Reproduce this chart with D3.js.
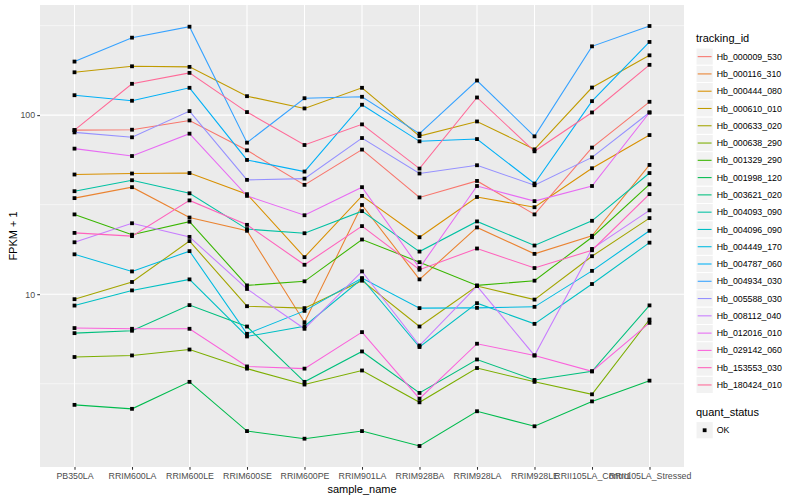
<!DOCTYPE html>
<html>
<head>
<meta charset="utf-8">
<script src="https://cdn.jsdelivr.net/npm/d3@7"></script>
<style>
  body { margin: 0; background: #fff; }
  text { font-family: "Liberation Sans", Arial, Helvetica, sans-serif; }
</style>
</head>
<body>
<div id="chart"></div>
<script>
// samples along the x axis
var samples = ["PB350LA", "RRIM600LA", "RRIM600LE", "RRIM600SE", "RRIM600PE", "RRIM901LA",
  "RRIM928BA", "RRIM928LA", "RRIM928LE", "RRII105LA_Control", "RRII105LA_Stressed"];

var trackingIds = ["Hb_000009_530", "Hb_000116_310", "Hb_000444_080", "Hb_000610_010", "Hb_000633_020",
  "Hb_000638_290", "Hb_001329_290", "Hb_001998_120", "Hb_003621_020", "Hb_004093_090",
  "Hb_004096_090", "Hb_004449_170", "Hb_004787_060", "Hb_004934_030", "Hb_005588_030",
  "Hb_008112_040", "Hb_012016_010", "Hb_029142_060", "Hb_153553_030", "Hb_180424_010"];

// FPKM + 1, one array per gene, same order as samples
var hb_000009_530 = [82.5, 82.9, 93.4, 63.6, 40.8, 64.2, 34.7, 42.9, 27.9, 65.9, 118.7];
var hb_000116_310 = [34.4, 39.6, 26.8, 22.6, 6.97, 31.5, 12.1, 23.6, 16.8, 21.2, 52.7];
var hb_000444_080 = [46.6, 47.2, 47.5, 36.2, 16.1, 35.4, 20.8, 34.9, 30.6, 50.5, 77.4];
var hb_000610_010 = [173.5, 187.4, 186, 127.6, 109, 142.1, 76.4, 92.2, 64.4, 142.6, 215.8];
var hb_000633_020 = [9.38, 11.7, 19.8, 8.57, 8.36, 11.9, 6.6, 11.1, 9.33, 16.3, 26.6];
var hb_000638_290 = [4.46, 4.55, 4.91, 3.84, 3.13, 3.75, 2.49, 3.87, 3.24, 2.76, 7.22];
var hb_001329_290 = [27.9, 21.5, 25.4, 11.2, 11.8, 20.2, 15.1, 11.2, 11.9, 20.8, 41.1];
var hb_001998_120 = [2.41, 2.29, 3.24, 1.72, 1.56, 1.72, 1.42, 2.22, 1.83, 2.52, 3.29];
var hb_003621_020 = [6.06, 6.25, 8.69, 6.6, 3.24, 4.79, 2.81, 4.32, 3.32, 3.71, 8.66];
var hb_004093_090 = [37.6, 43.3, 36.6, 23.1, 21.9, 29.1, 17.3, 25.5, 18.7, 25.7, 47.5];
var hb_004096_090 = [8.64, 10.5, 12.1, 5.81, 6.63, 12.2, 5.07, 8.91, 6.83, 11.4, 19.4];
var hb_004449_170 = [16.7, 13.4, 17.4, 6.01, 8.07, 12.3, 8.36, 8.39, 8.5, 13.5, 22.6];
var hb_004787_060 = [129.2, 120.3, 142.1, 56.2, 48.4, 114.3, 71.4, 73.5, 41.5, 119.7, 256.3];
var hb_004934_030 = [199.1, 270.8, 311.8, 70.2, 124.3, 126.6, 78.8, 156.1, 76.1, 242.2, 314.6];
var hb_005588_030 = [80.1, 75.2, 105.3, 43.5, 44.2, 74.5, 47.2, 52.5, 40.6, 58.1, 103.5];
var hb_008112_040 = [19.5, 24.9, 20.9, 10.7, 6.41, 13.4, 5.17, 11.1, 4.55, 17.9, 29.4];
var hb_012016_010 = [65.0, 59.1, 78.8, 35.4, 27.6, 39.6, 14.0, 40.2, 33.1, 40.2, 103.5];
var hb_029142_060 = [6.47, 6.41, 6.41, 3.95, 3.84, 6.14, 2.61, 5.29, 4.55, 3.71, 6.92];
var hb_153553_030 = [22.0, 21.1, 33.4, 24.4, 14.6, 24.0, 13.7, 18.0, 14.0, 17.6, 36.2];
var hb_180424_010 = [82.5, 149.6, 172.2, 104, 68.1, 88.8, 50.3, 125.5, 62.8, 103.5, 190.9];

var seriesValues = [hb_000009_530, hb_000116_310, hb_000444_080, hb_000610_010, hb_000633_020,
  hb_000638_290, hb_001329_290, hb_001998_120, hb_003621_020, hb_004093_090,
  hb_004096_090, hb_004449_170, hb_004787_060, hb_004934_030, hb_005588_030,
  hb_008112_040, hb_012016_010, hb_029142_060, hb_153553_030, hb_180424_010];

// ggplot default hue palette, 20 levels
var colors = ["#F8766D", "#EA8331", "#D89000", "#C09B00", "#A3A500", "#7CAE00", "#39B600", "#00BB4E",
  "#00BF7D", "#00C1A3", "#00BFC4", "#00BAE0", "#00B0F6", "#35A2FF", "#9590FF", "#C77CFF",
  "#E76BF3", "#FA62DB", "#FF62BC", "#FF6A98"];

var yTicks = [10, 100];

var svgWidth = 800;
var svgHeight = 500;
var panel = { left: 40, right: 684, top: 5, bottom: 467 };

var svg = d3.select("#chart")
  .append("svg")
  .attr("width", svgWidth)
  .attr("height", svgHeight);

// build rows
var series = trackingIds.map(function(id, i) {
  return {
    id: id,
    color: colors[i],
    values: samples.map(function(s, j) { return { sample: s, value: seriesValues[i][j] }; })
  };
});
var allValues = d3.merge(seriesValues);

// scales
var xScale = d3.scalePoint()
  .domain(samples)
  .range([panel.left, panel.right])
  .padding(0.6);

// log scale with ggplot's 5% expansion in log space
var ext = d3.extent(allValues).map(Math.log10);
var pad = (ext[1] - ext[0]) * 0.05;
var yScale = d3.scaleLog()
  .domain([Math.pow(10, ext[0] - pad), Math.pow(10, ext[1] + pad)])
  .range([panel.bottom, panel.top]);

// panel background
svg.append("rect")
  .attr("x", panel.left)
  .attr("y", panel.top)
  .attr("width", panel.right - panel.left)
  .attr("height", panel.bottom - panel.top)
  .attr("fill", "#EBEBEB");

var lo = Math.floor(ext[0] - pad), hi = Math.ceil(ext[1] + pad);
var minorY = d3.range(lo, hi).map(function(e) { return Math.pow(10, e + 0.5); })
  .filter(function(v) { return yScale(v) > panel.top && yScale(v) < panel.bottom; });

svg.append("g").selectAll("line")
  .data(minorY)
  .enter()
  .append("line")
  .attr("x1", panel.left).attr("x2", panel.right)
  .attr("y1", d => yScale(d)).attr("y2", d => yScale(d))
  .attr("stroke", "#fff")
  .attr("stroke-width", 0.53);

svg.append("g").selectAll("line")
  .data(yTicks)
  .enter()
  .append("line")
  .attr("x1", panel.left).attr("x2", panel.right)
  .attr("y1", d => yScale(d)).attr("y2", d => yScale(d))
  .attr("stroke", "#fff")
  .attr("stroke-width", 1.07);

svg.append("g").selectAll("line")
  .data(samples)
  .enter()
  .append("line")
  .attr("x1", d => xScale(d)).attr("x2", d => xScale(d))
  .attr("y1", panel.top).attr("y2", panel.bottom)
  .attr("stroke", "#fff")
  .attr("stroke-width", 1.07);

// lines
var line = d3.line()
  .x(d => xScale(d.sample))
  .y(d => yScale(d.value));

svg.append("g").selectAll("path")
  .data(series)
  .enter()
  .append("path")
  .attr("d", d => line(d.values))
  .attr("fill", "none")
  .attr("stroke", d => d.color)
  .attr("stroke-width", 1.07);

// points (quant_status = OK, square)
var pts = d3.merge(series.map(d => d.values));
svg.append("g").selectAll("rect")
  .data(pts)
  .enter()
  .append("rect")
  .attr("x", d => xScale(d.sample) - 1.9)
  .attr("y", d => yScale(d.value) - 1.9)
  .attr("width", 3.8)
  .attr("height", 3.8)
  .attr("fill", "#000");

// axes
var leftAxis = d3.axisLeft(yScale)
  .tickValues(yTicks)
  .tickFormat(d3.format("d"))
  .tickSize(2.75)
  .tickPadding(2.2);

var yAxis = svg.append("g")
  .attr("transform", `translate(${panel.left}, 0)`)
  .call(leftAxis);

var bottomAxis = d3.axisBottom(xScale)
  .tickSize(2.75)
  .tickPadding(3.5);

var xAxis = svg.append("g")
  .attr("transform", `translate(0, ${panel.bottom})`)
  .call(bottomAxis);

[xAxis, yAxis].forEach(function(ax) {
  ax.select(".domain").remove();
  ax.selectAll(".tick line").attr("stroke", "#333333").attr("stroke-width", 1.07);
  ax.selectAll(".tick text")
    .attr("fill", "#4D4D4D")
    .style("font-size", "8.8px")
    .style("font-family", "'Liberation Sans', Arial, sans-serif");
});

// axis titles
svg.append("text")
  .attr("x", (panel.left + panel.right) / 2)
  .attr("y", 493)
  .attr("text-anchor", "middle")
  .style("font-size", "11px")
  .text("sample_name");

svg.append("text")
  .attr("transform", "rotate(-90)")
  .attr("x", -(panel.top + panel.bottom) / 2)
  .attr("y", 17)
  .attr("text-anchor", "middle")
  .style("font-size", "11px")
  .text("FPKM + 1");

// legend: tracking_id
var legend = svg.append("g").attr("transform", "translate(696, 0)");
var keySize = 17.28;
var legTop = 48;

legend.append("text")
  .attr("x", 0)
  .attr("y", 42)
  .style("font-size", "11px")
  .text("tracking_id");

var items = legend.selectAll("g.item")
  .data(series)
  .enter()
  .append("g")
  .attr("class", "item")
  .attr("transform", (d, i) => `translate(0, ${legTop + i * keySize})`);

items.append("rect")
  .attr("width", keySize)
  .attr("height", keySize)
  .attr("fill", "#F2F2F2")
  .attr("stroke", "#fff")
  .attr("stroke-width", 1);

items.append("line")
  .attr("x1", 1.7).attr("x2", keySize - 1.7)
  .attr("y1", keySize / 2).attr("y2", keySize / 2)
  .attr("stroke", d => d.color)
  .attr("stroke-width", 1.07);

items.append("text")
  .attr("x", keySize + 3.5)
  .attr("y", keySize / 2)
  .attr("dy", "0.35em")
  .style("font-size", "8.8px")
  .text(d => d.id);

// legend: quant_status
var qTop = legTop + series.length * keySize + 28;
legend.append("text")
  .attr("x", 0)
  .attr("y", qTop - 6)
  .style("font-size", "11px")
  .text("quant_status");

var q = legend.append("g").attr("transform", `translate(0, ${qTop})`);
q.append("rect")
  .attr("width", keySize)
  .attr("height", keySize)
  .attr("fill", "#F2F2F2")
  .attr("stroke", "#fff");
q.append("rect")
  .attr("x", keySize / 2 - 1.9)
  .attr("y", keySize / 2 - 1.9)
  .attr("width", 3.8)
  .attr("height", 3.8)
  .attr("fill", "#000");
q.append("text")
  .attr("x", keySize + 3.5)
  .attr("y", keySize / 2)
  .attr("dy", "0.35em")
  .style("font-size", "8.8px")
  .text("OK");
</script>
</body>
</html>
